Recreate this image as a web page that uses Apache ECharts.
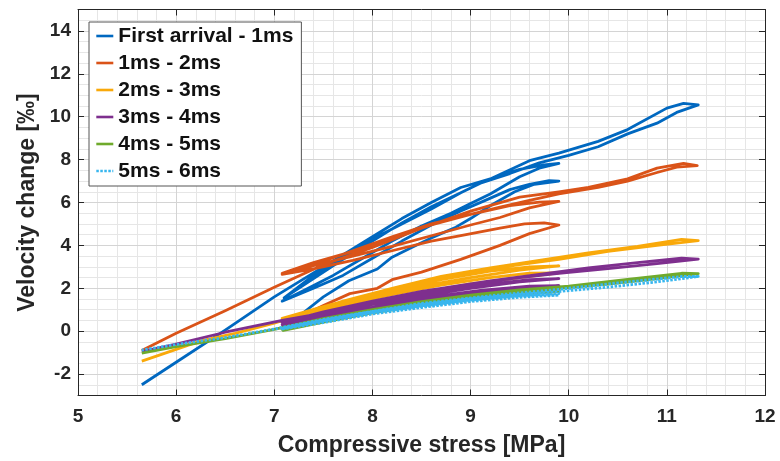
<!DOCTYPE html>
<html>
<head>
<meta charset="utf-8">
<script src="https://cdn.jsdelivr.net/npm/echarts@6/dist/echarts.min.js"></script>
<style>
html,body{margin:0;padding:0;background:#fff;}
#chart{width:780px;height:461px;}
</style>
</head>
<body>
<div id="chart"></div>
<script>
// ---- data (compressive stress [MPa], velocity change [‰]) ----
const seriesNames = ['First arrival - 1ms','1ms - 2ms','2ms - 3ms','3ms - 4ms','4ms - 5ms','5ms - 6ms'];
const xTicks = [5,6,7,8,9,10,11,12];
const yTicks = [-2,0,2,4,6,8,10,12,14];

const firstArrival = [
  [7.12,0.25],[7.28,0.8],[7.5,1.6],[7.76,2.35],[8.05,2.9],[8.2,3.45],[8.4,3.9],[8.6,4.35],[8.85,4.85],[9.0,5.25],[9.2,5.85],[9.45,6.5],[9.65,6.85],[9.9,7.0],
  [9.8,7.02],[9.6,6.85],[9.4,6.6],[9.15,6.1],[8.9,5.6],[8.6,4.95],[8.3,4.2],[8.0,3.4],[7.7,2.6],[7.4,2.0],[7.08,1.4],
  [7.3,1.9],[7.6,2.6],[7.9,3.4],[8.2,4.2],[8.5,4.9],[8.8,5.5],[9.0,5.95],[9.2,6.4],[9.5,7.2],[9.7,7.6],[9.9,7.82],
  [9.75,7.75],[9.5,7.55],[9.3,7.25],[9.1,6.9],[8.9,6.45],[8.6,5.8],[8.3,5.05],[8.0,4.2],[7.7,3.35],[7.4,2.45],[7.1,1.55],
  [7.4,2.6],[7.7,3.5],[8.0,4.3],[8.3,5.0],[8.6,5.7],[8.9,6.45],[9.1,6.9],[9.4,7.35],[9.7,7.85],[10.0,8.2],[10.3,8.6],[10.6,9.2],[10.9,9.7],[11.1,10.2],[11.32,10.55],
  [11.17,10.62],[11.0,10.4],[10.6,9.4],[10.3,8.85],[9.9,8.3],[9.6,7.95],[9.2,7.1],[8.9,6.7],[8.6,6.0],[8.3,5.25],[8.0,4.4],[7.5,3.0],[7.0,1.6],[6.5,0.05],[6.0,-1.45],[5.65,-2.5]
];
const ms1to2 = [
  [7.12,0.45],[7.3,0.75],[7.5,1.2],[7.77,1.75],[8.05,2.0],[8.2,2.4],[8.5,2.75],[8.9,3.35],[9.3,4.0],[9.6,4.55],[9.9,4.95],
  [9.75,5.05],[9.55,5.0],[9.3,4.8],[8.9,4.45],[8.6,4.2],[8.2,3.75],[7.8,3.3],[7.4,2.9],[7.08,2.65],
  [7.4,3.05],[7.8,3.5],[8.2,3.95],[8.6,4.45],[9.0,4.95],[9.3,5.3],[9.6,5.75],[9.9,6.05],
  [9.7,6.02],[9.4,5.85],[9.0,5.45],[8.6,5.0],[8.2,4.4],[7.8,3.75],[7.4,3.1],[7.08,2.7],
  [7.4,3.2],[7.9,3.85],[8.3,4.5],[8.6,4.95],[9.0,5.45],[9.3,5.78],[9.6,6.1],[9.9,6.4],[10.3,6.7],[10.6,7.0],[10.9,7.4],[11.1,7.65],[11.31,7.72],
  [11.17,7.82],[10.9,7.6],[10.6,7.1],[10.2,6.7],[9.9,6.5],[9.5,6.25],[9.0,5.6],[8.5,4.8],[8.0,3.9],[7.5,3.1],[7.0,2.05],[6.5,0.95],[6.0,-0.1],[5.65,-0.9]
];
const ms2to3 = [
  [7.08,0.3],[7.5,0.85],[8.0,1.35],[8.5,1.8],[9.0,2.2],[9.5,2.5],[9.9,2.72],
  [9.6,2.7],[9.2,2.5],[8.7,2.15],[8.2,1.7],[7.7,1.2],[7.08,0.55],
  [7.5,1.05],[8.0,1.6],[8.5,2.1],[9.0,2.5],[9.5,2.85],[9.9,3.04],
  [9.6,3.0],[9.2,2.8],[8.7,2.4],[8.2,1.9],[7.7,1.35],[7.08,0.6],
  [7.5,1.15],[8.0,1.75],[8.5,2.3],[9.0,2.75],[9.5,3.1],[9.9,3.35],[10.4,3.72],[10.9,4.0],[11.32,4.22],
  [11.15,4.28],[10.7,3.95],[10.2,3.65],[9.7,3.3],[9.2,2.95],[8.7,2.55],[8.2,2.0],[7.7,1.4],[7.0,0.37],[6.6,-0.1],[6.25,-0.45],[6.0,-0.85],[5.65,-1.4]
];
const ms3to4 = [
  [7.08,0.2],[7.5,0.6],[8.0,1.05],[8.5,1.45],[9.0,1.75],[9.5,2.0],[9.9,2.12],
  [9.6,2.1],[9.1,1.9],[8.6,1.6],[8.1,1.2],[7.6,0.75],[7.08,0.3],
  [7.5,0.75],[8.0,1.25],[8.5,1.65],[9.0,2.0],[9.5,2.3],[9.9,2.45],
  [9.6,2.4],[9.1,2.15],[8.6,1.8],[8.1,1.35],[7.6,0.85],[7.08,0.4],
  [7.5,0.9],[8.0,1.4],[8.5,1.85],[9.0,2.2],[9.5,2.5],[9.9,2.7],[10.4,2.92],[10.9,3.15],[11.32,3.36],
  [11.15,3.4],[10.7,3.2],[10.2,2.95],[9.7,2.65],[9.2,2.35],[8.7,2.0],[8.2,1.55],[7.7,1.0],[7.08,0.5],[6.5,-0.05],[6.0,-0.6],[5.65,-0.95]
];
const ms4to5 = [
  [7.08,0.02],[7.5,0.42],[8.0,0.85],[8.5,1.2],[9.0,1.5],[9.5,1.72],[9.9,1.85],
  [9.5,1.78],[9.0,1.56],[8.5,1.27],[8.0,0.92],[7.5,0.5],[7.08,0.08],
  [7.5,0.47],[8.0,0.9],[8.5,1.26],[9.0,1.56],[9.5,1.8],[9.9,1.93],
  [9.5,1.84],[9.0,1.62],[8.5,1.32],[8.0,0.97],[7.5,0.54],[7.08,0.12],
  [7.5,0.52],[8.0,0.95],[8.5,1.31],[9.0,1.62],[9.5,1.87],[9.9,2.0],[10.4,2.2],[10.9,2.45],[11.32,2.68],
  [11.15,2.7],[10.6,2.42],[10.0,2.1],[9.5,1.92],[9.0,1.68],[8.5,1.38],[8.0,1.0],[7.5,0.58],[7.0,0.08],[6.5,-0.35],[6.0,-0.72],[5.65,-1.02]
];
const ms5to6 = [
  [7.08,0.1],[7.5,0.4],[8.0,0.8],[8.5,1.1],[9.0,1.38],[9.5,1.58],[9.9,1.68],
  [9.5,1.62],[9.0,1.42],[8.5,1.15],[8.0,0.85],[7.5,0.45],[7.08,0.12],
  [7.5,0.48],[8.0,0.88],[8.5,1.18],[9.0,1.46],[9.5,1.66],[9.9,1.75],
  [9.5,1.7],[9.0,1.5],[8.5,1.22],[8.0,0.9],[7.5,0.5],[7.08,0.14],
  [7.5,0.52],[8.0,0.92],[8.5,1.25],[9.0,1.52],[9.5,1.72],[9.9,1.85],[10.4,2.05],[10.9,2.3],[11.32,2.55],
  [11.15,2.55],[10.5,2.25],[9.9,1.95],[9.3,1.7],[8.5,1.3],[7.5,0.55],[7.0,0.1],[6.5,-0.3],[6.0,-0.62],[5.65,-0.88]
];

const seriesData = [firstArrival, ms1to2, ms2to3, ms3to4, ms4to5, ms5to6];
const colors = ['#0068C0','#DA5318','#F9A90A','#7E2F8E','#6FAA2C','#38B6EE'];

const axisColor = '#262626';
const majorGrid = '#d4d4d4';
const minorGrid = '#e6e6e6';
const font = 'Liberation Sans, Arial, Helvetica, sans-serif';

const chart = echarts.init(document.getElementById('chart'), null, {renderer:'canvas'});
const hiddenBits = {axisLine: {show: false}, axisTick: {show: false}, axisLabel: {show: false}};
const option = {
  animation: false,
  backgroundColor: '#fff',
  grid: {left: 78, right: 15, top: 9.5, bottom: 65.5, containLabel: false, outerBoundsMode: 'none'},
  legend: {
    orient: 'vertical',
    left: 89, top: 22,
    backgroundColor: '#fff',
    borderColor: '#555',
    borderWidth: 1,
    padding: [3, 8, 4, 6],
    itemGap: 5,
    itemWidth: 17,
    itemHeight: 12,
    itemStyle: {opacity: 0},
    lineStyle: {width: 2.6},
    textStyle: {fontFamily: font, fontWeight: 'bold', fontSize: 21, color: '#111', lineHeight: 22},
    data: seriesNames
  },
  xAxis: [{
    type: 'value', min: 5, max: 12, interval: 0.2, position: 'bottom', z: 3,
    axisLine: {show: true, onZero: false, lineStyle: {color: axisColor, width: 1}},
    axisTick: {show: true, inside: true, length: 6, customValues: xTicks, lineStyle: {color: axisColor}},
    axisLabel: {show: true, customValues: xTicks, margin: 12, color: axisColor, fontFamily: font, fontWeight: 'bold', fontSize: 19},
    splitLine: {show: true, lineStyle: {color: majorGrid, width: 1}},
    name: 'Compressive stress [MPa]', nameLocation: 'middle', nameGap: 39,
    nameTextStyle: {fontFamily: font, fontWeight: 'bold', fontSize: 23, color: axisColor}
  }, {
    type: 'value', min: 5, max: 12, interval: 0.2, position: 'top', z: 3,
    axisLine: {show: true, onZero: false, lineStyle: {color: axisColor, width: 1}},
    axisTick: {show: true, inside: true, length: 6, customValues: xTicks, lineStyle: {color: axisColor}},
    axisLabel: {show: false},
    splitLine: {show: false}
  }, Object.assign({
    type: 'value', min: 5, max: 12, interval: 0.2, position: 'bottom', z: 0,
    splitLine: {show: true, lineStyle: {color: minorGrid, width: 1}}
  }, hiddenBits)],
  yAxis: [{
    type: 'value', min: -3, max: 15, interval: 0.5, position: 'left', z: 3,
    axisLine: {show: true, onZero: false, lineStyle: {color: axisColor, width: 1}},
    axisTick: {show: true, inside: true, length: 6, customValues: yTicks, lineStyle: {color: axisColor}},
    axisLabel: {show: true, customValues: yTicks, margin: 7, color: axisColor, fontFamily: font, fontWeight: 'bold', fontSize: 19},
    splitLine: {show: true, lineStyle: {color: majorGrid, width: 1}},
    name: 'Velocity change [‰]', nameLocation: 'middle', nameGap: 39,
    nameTextStyle: {fontFamily: font, fontWeight: 'bold', fontSize: 23, color: axisColor}
  }, {
    type: 'value', min: -3, max: 15, interval: 0.5, position: 'right', z: 3,
    axisLine: {show: true, onZero: false, lineStyle: {color: axisColor, width: 1}},
    axisTick: {show: true, inside: true, length: 6, customValues: yTicks, lineStyle: {color: axisColor}},
    axisLabel: {show: false},
    splitLine: {show: false}
  }, Object.assign({
    type: 'value', min: -3, max: 15, interval: 0.5, position: 'left', z: 0,
    splitLine: {show: true, lineStyle: {color: minorGrid, width: 1}}
  }, hiddenBits)],
  series: seriesNames.map((name, i) => ({
    name: name,
    type: 'line',
    xAxisIndex: 0, yAxisIndex: 0,
    data: seriesData[i],
    showSymbol: false,
    symbol: 'none',
    smooth: false,
    clip: false,
    color: colors[i],
    lineStyle: {color: colors[i], width: 2.8, type: i === 5 ? [2.5, 1.5] : 'solid', join: 'round'},
    emphasis: {disabled: true}
  }))
};
chart.setOption(option);
</script>
</body>
</html>
